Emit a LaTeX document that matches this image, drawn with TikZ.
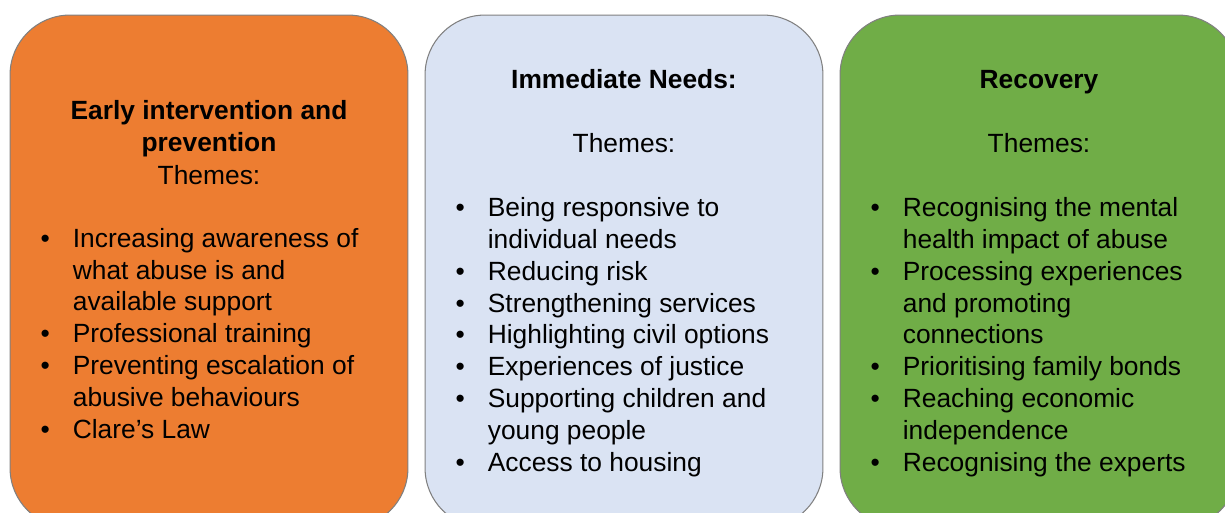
\documentclass[tikz,border=0pt]{standalone}
\usepackage{fontspec}
\setmainfont{Liberation Sans}
\usetikzlibrary{positioning}
\definecolor{earlyfill}{HTML}{ED7D31}
\definecolor{needsfill}{HTML}{DAE3F3}
\definecolor{recfill}{HTML}{70AD47}
\newcommand\bul{\llap{\textbullet\hspace{0.46cm}}}
\begin{document}
\begin{tikzpicture}[x=0.02cm, y=-0.02cm,
	phase/.style={draw=black!50, line width=0.6pt, rounded corners=1.2cm, minimum width=7.96cm, minimum height=10.26cm, inner sep=0pt},
	head/.style={font=\bfseries\fontsize{15pt}{18.15pt}\selectfont, align=center, inner sep=0pt, anchor=base},
	body/.style={font=\fontsize{15pt}{18.15pt}\selectfont, inner sep=0pt, anchor=base},
	items/.style={body, align=left, anchor=base west}]
	\useasboundingbox (0,0) rectangle (1225,513);
	\clip (0,0) rectangle (1225,513);
	% the three phases
	\node[phase, fill=earlyfill] (early) at (209,271.5) {};
	\node[phase, fill=needsfill] (needs) at (624,271.5) {};
	\node[phase, fill=recfill] (rec) at (1039,271.5) {};

	% multi-line texts sit on the baseline of their last line
	\node[head] (earlyhead) at ([shift={(0,137)}]early.north) {Early intervention and\\prevention};
	\node[body] (earlythemes) at ([shift={(0,170)}]early.north) {Themes:};
	\node[items] (earlylist) at ([shift={(63,424)}]early.north west) {\bul Increasing awareness of\\what abuse is and\\available support\\\bul Professional training\\\bul Preventing escalation of\\abusive behaviours\\\bul Clare’s Law};

	\node[head] (needshead) at ([shift={(0,74)}]needs.north) {Immediate Needs:};
	\node[body] (needsthemes) at ([shift={(0,138)}]needs.north) {Themes:};
	\node[items] (needslist) at ([shift={(63,457)}]needs.north west) {\bul Being responsive to\\individual needs\\\bul Reducing risk\\\bul Strengthening services\\\bul Highlighting civil options\\\bul Experiences of justice\\\bul Supporting children and\\young people\\\bul Access to housing};

	\node[head] (rechead) at ([shift={(0,74)}]rec.north) {Recovery};
	\node[body] (recthemes) at ([shift={(0,138)}]rec.north) {Themes:};
	\node[items] (reclist) at ([shift={(63,457)}]rec.north west) {\bul Recognising the mental\\health impact of abuse\\\bul Processing experiences\\and promoting\\connections\\\bul Prioritising family bonds\\\bul Reaching economic\\independence\\\bul Recognising the experts};
\end{tikzpicture}
\end{document}
